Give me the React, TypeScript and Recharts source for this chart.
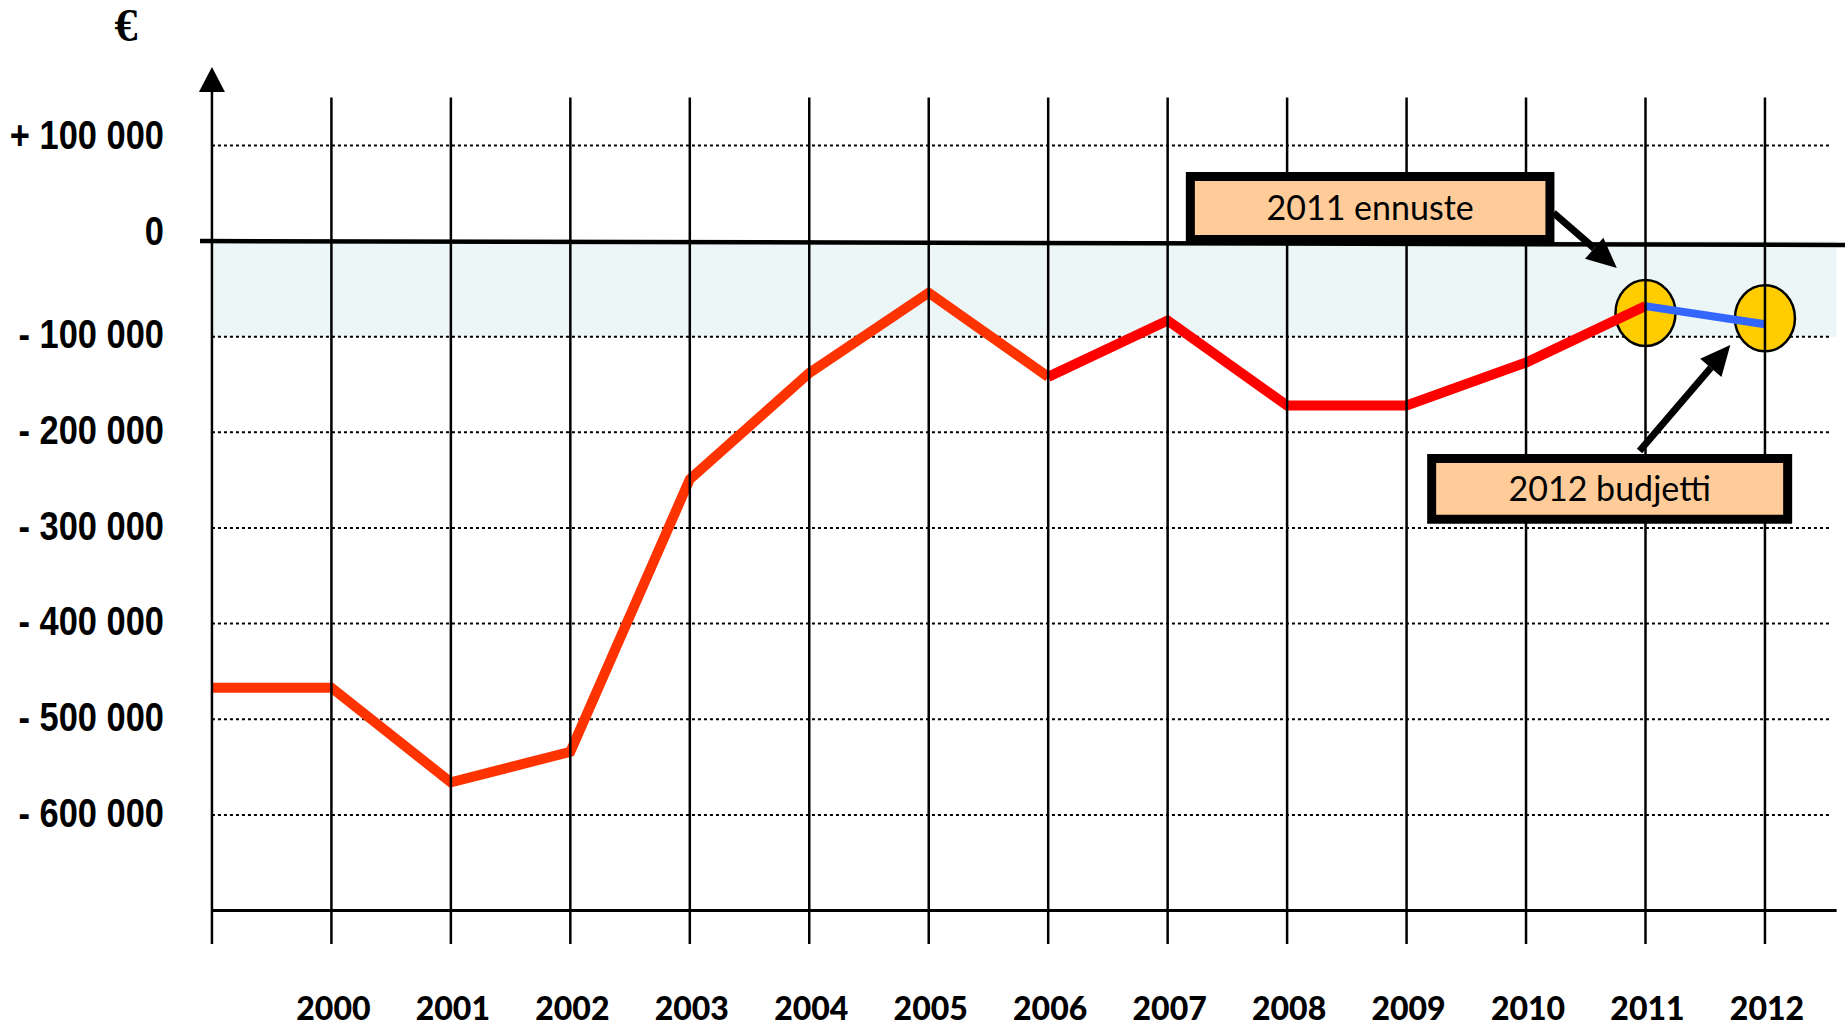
import React from "react"
import { LineChart, Line, XAxis, YAxis, ReferenceLine, ReferenceArea, ReferenceDot } from "recharts"

// Toteutunut tulos 1999–2011 (1999 = viivan alku y-akselilla), 2012 budjetti.
const years = [1999, 2000, 2001, 2002, 2003, 2004, 2005, 2006, 2007, 2008, 2009, 2010, 2011]
const resultValues = [
  -467000, -467000, -566000, -534000, -249000, -138000, -54000, -142000, -83000, -172000, -172000, -127000, -68000,
]
const budgetYear = 2012
const budgetValue = -87000

// viiva vaihtuu oranssista punaiseen vuoden 2006 kohdalla
const colourSplitYear = 2006
const forecastYear = 2011

const yearTicks = [2000, 2001, 2002, 2003, 2004, 2005, 2006, 2007, 2008, 2009, 2010, 2011, 2012]
const euroTicks = [100000, 0, -100000, -200000, -300000, -400000, -500000, -600000]

const chartData = [
  ...years.map((year, i) => ({
    year,
    early: year <= colourSplitYear ? resultValues[i] : null,
    late: year >= colourSplitYear ? resultValues[i] : null,
    budget: year === forecastYear ? resultValues[i] : null,
  })),
  { year: budgetYear, early: null, late: null, budget: budgetValue },
]

const X_DOMAIN: [number, number] = [1998.9, 2012.67]
const Y_DOMAIN: [number, number] = [-735000, 182000]
const AXIS_X = 1999
const GRID_RIGHT = 2012.55
const PLOT_RIGHT = 2012.6

function formatEuro(v: number) {
  if (v === 0) return "0"
  const digits = Math.abs(v).toString().replace(/\B(?=(\d{3})+(?!\d))/g, " ")
  return `${v > 0 ? "+" : "-"} ${digits}`
}

// Arial Narrow -tyyli: Liberation Sans lihavoituna ja kavennettuna
function YTick(props: any) {
  const { x, y, payload } = props
  const lift = payload.value >= 0 ? -11 : -3
  return (
    <g transform={`translate(${x},${y + lift})`}>
      <text
        transform="scale(0.84,1)"
        dy="0.36em"
        textAnchor="end"
        fontFamily="'Liberation Sans', Arial, sans-serif"
        fontWeight="bold"
        fontSize={41}
        fill="#000"
      >
        {formatEuro(payload.value)}
      </text>
    </g>
  )
}

function XTick(props: any) {
  const { x, y, payload } = props
  return (
    <text x={x + 2} y={y} dy="0.36em" textAnchor="middle" fontFamily="Lato, sans-serif" fontWeight={900} fontSize={32} fill="#000">
      {payload.value}
    </text>
  )
}

function Arrow(props: any) {
  const { x1, y1, x2, y2 } = props
  const len = Math.hypot(x2 - x1, y2 - y1)
  const ux = (x2 - x1) / len
  const uy = (y2 - y1) / len
  const head = 30
  const half = 14
  const bx = x2 - ux * head
  const by = y2 - uy * head
  return (
    <g>
      <line x1={x1} y1={y1} x2={bx} y2={by} stroke="#000" strokeWidth={7} />
      <polygon
        points={`${x2},${y2} ${bx - uy * half},${by + ux * half} ${bx + uy * half},${by - ux * half}`}
        fill="#000"
      />
    </g>
  )
}

function ArrowAxis(props: any) {
  const { x1, y1, x2, y2 } = props
  // y1 = alapää, y2 = nuolen kärki
  return (
    <g>
      <line x1={x1} y1={y1} x2={x2} y2={y2 + 22} stroke="#000" strokeWidth={2.5} />
      <polygon points={`${x2},${y2} ${x2 - 13},${y2 + 25} ${x2 + 13},${y2 + 25}`} fill="#000" />
    </g>
  )
}

const ellipse = (dy: number) => (p: any) => (
  <ellipse cx={p.cx} cy={p.cy + dy} rx={30} ry={33} fill="#FFCC00" stroke="#000" strokeWidth={2.5} />
)

const boxLabel = (value: string) => ({
  value,
  position: "center" as const,
  fontSize: 34,
  fontFamily: "Lato, sans-serif",
  fill: "#000",
})

export default function App() {
  return (
    <div style={{ position: "absolute", left: 0, top: 0, background: "#fff" }}>
      <LineChart width={1845} height={1026} data={chartData} margin={{ top: 67, right: 0, bottom: 0, left: 0 }}>
        <XAxis
          dataKey="year"
          type="number"
          domain={X_DOMAIN}
          allowDataOverflow
          ticks={yearTicks}
          interval={0}
          axisLine={false}
          tickLine={false}
          tickSize={0}
          tickMargin={64}
          height={82}
          tick={<XTick />}
        />
        <YAxis
          type="number"
          domain={Y_DOMAIN}
          allowDataOverflow
          ticks={euroTicks}
          interval={0}
          axisLine={false}
          tickLine={false}
          tickSize={0}
          tickMargin={36}
          width={200}
          tick={<YTick />}
          label={{
            content: () => (
              <text
                x={126}
                y={41}
                textAnchor="middle"
                fontFamily="'Liberation Serif', 'DejaVu Serif', serif"
                fontWeight="bold"
                fontSize={46}
                fill="#000"
              >
                €
              </text>
            ),
          }}
        />

        <ReferenceArea x1={AXIS_X} x2={PLOT_RIGHT} y1={-100000} y2={0} fill="#ECF6F6" fillOpacity={1} stroke="none" zIndex={50} />

        {euroTicks
          .filter((v) => v !== 0)
          .map((v) => (
            <ReferenceLine
              key={`g${v}`}
              segment={[
                { x: AXIS_X, y: v },
                { x: GRID_RIGHT, y: v },
              ]}
              stroke="#000"
              strokeWidth={2}
              strokeDasharray="3 3"
              zIndex={60}
            />
          ))}

        <ReferenceDot x={forecastYear} y={resultValues[resultValues.length - 1]} r={30} shape={ellipse(7)} zIndex={70} />
        <ReferenceDot x={budgetYear} y={budgetValue} r={30} shape={ellipse(-6)} zIndex={70} />

        <Line dataKey="early" stroke="#FF3300" strokeWidth={10} dot={false} activeDot={false} isAnimationActive={false} zIndex={400} />
        <Line dataKey="late" stroke="#FF0000" strokeWidth={10} dot={false} activeDot={false} isAnimationActive={false} zIndex={400} />
        <Line dataKey="budget" stroke="#3366FF" strokeWidth={8} dot={false} activeDot={false} isAnimationActive={false} zIndex={400} />

        {yearTicks.map((yr) => (
          <ReferenceLine
            key={`v${yr}`}
            segment={[
              { x: yr, y: -735000 },
              { x: yr, y: 150000 },
            ]}
            stroke="#000"
            strokeWidth={2.5}
            zIndex={450}
          />
        ))}
        <ReferenceLine
          segment={[
            { x: AXIS_X, y: -735000 },
            { x: AXIS_X, y: 182000 },
          ]}
          shape={<ArrowAxis />}
          zIndex={450}
        />
        <ReferenceLine
          segment={[
            { x: AXIS_X, y: -700000 },
            { x: PLOT_RIGHT, y: -700000 },
          ]}
          stroke="#000"
          strokeWidth={3}
          zIndex={450}
        />
        <ReferenceLine
          segment={[
            { x: X_DOMAIN[0], y: 0 },
            { x: X_DOMAIN[1], y: -4000 },
          ]}
          stroke="#000"
          strokeWidth={4.5}
          zIndex={450}
        />

        <ReferenceArea
          x1={2007.19}
          x2={2010.2}
          y1={1700}
          y2={67500}
          fill="#FFCC99"
          fillOpacity={1}
          stroke="#000"
          strokeWidth={9}
          label={boxLabel("2011 ennuste")}
          zIndex={1500}
        />
        <ReferenceArea
          x1={2009.21}
          x2={2012.19}
          y1={-291000}
          y2={-227300}
          fill="#FFCC99"
          fillOpacity={1}
          stroke="#000"
          strokeWidth={9}
          label={boxLabel("2012 budjetti")}
          zIndex={1500}
        />

        <ReferenceLine
          segment={[
            { x: 2010.23, y: 29400 },
            { x: 2010.76, y: -28100 },
          ]}
          shape={<Arrow />}
          zIndex={1600}
        />
        <ReferenceLine
          segment={[
            { x: 2010.95, y: -219600 },
            { x: 2011.71, y: -108700 },
          ]}
          shape={<Arrow />}
          zIndex={1600}
        />
      </LineChart>
    </div>
  )
}
